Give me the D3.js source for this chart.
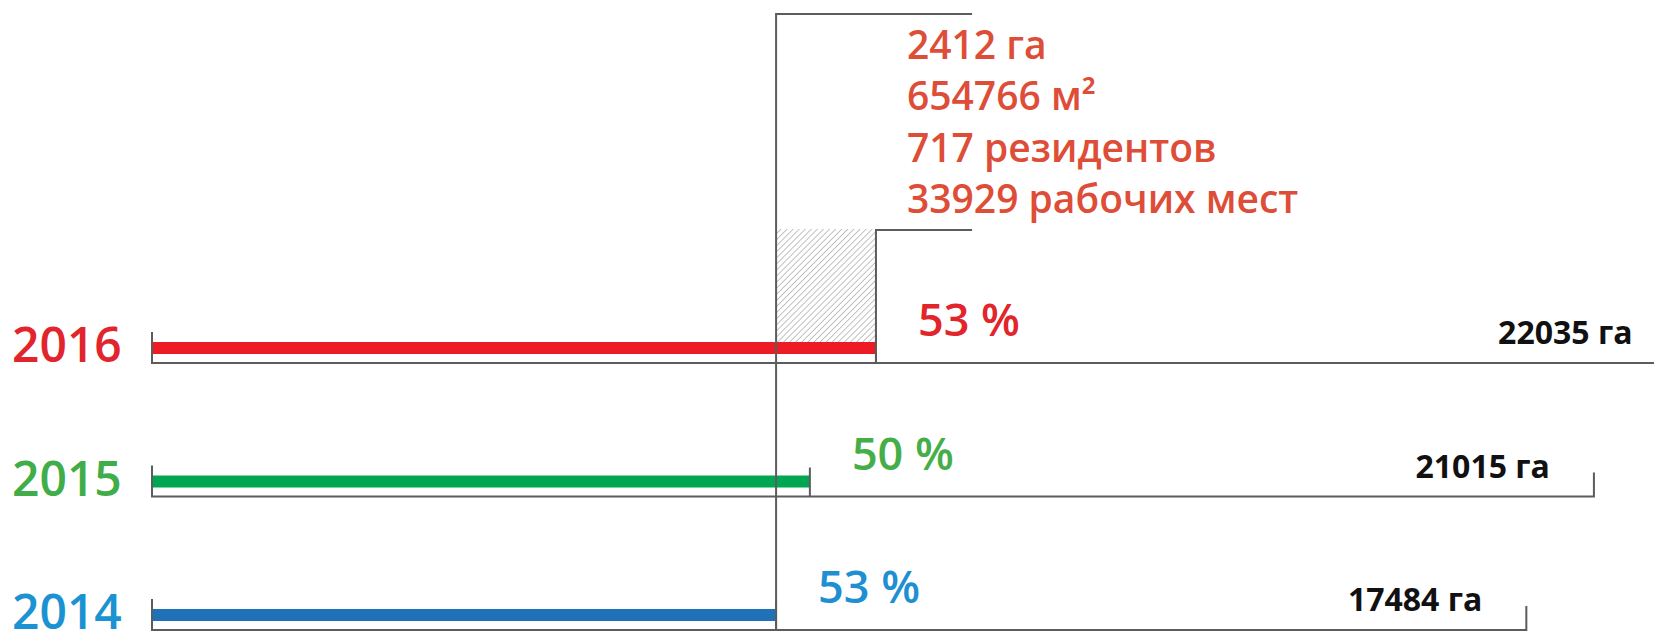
<!DOCTYPE html>
<html>
<head>
<meta charset="utf-8">
<script src="https://cdn.jsdelivr.net/npm/d3@7"></script>
<style>
  body { margin: 0; background: #fff; }
  svg { display: block; font-family: "Open Sans", "Noto Sans", sans-serif; }
</style>
</head>
<body>
<div id="chart"></div>
<script>
// rows, top to bottom
const years = ["2016", "2015", "2014"];
const totalHa = [22035, 21015, 17484];
const sharePct = [53, 50, 53];
// bar and bracket lengths as drawn (the picture is not to scale), 0-100 of plot width
const barEnd = [48.2, 43.8, 41.55];
const bracketEnd = [101.5, 96.0, 91.5];

// 2016 increment over 2014
const newHa = 2412;
const newFloorM2 = 654766;
const newResidents = 717;
const newJobs = 33929;

const yearColor = {"2016": "#e2252c", "2015": "#40ad48", "2014": "#1b92d1"};
const barColor = {"2016": "#ed1c24", "2015": "#00a651", "2014": "#1f72b8"};
const pctColor = {"2016": "#e2242b", "2015": "#45ae48", "2014": "#1e8fd0"};
const lineColor = "#5c5c5c";

var width = 1654, height = 631;

var svg = d3.select("#chart").append("svg")
    .attr("width", width)
    .attr("height", height);

var x = d3.scaleLinear()
    .domain([0, 100])
    .range([152, 1654]);

var y = d3.scalePoint()
    .domain(years)
    .range([363, 630]);

var rows = years.map(function(yr, i) {
  return {year: yr, total: totalHa[i], pct: sharePct[i], bar: barEnd[i], span: bracketEnd[i]};
});

var defs = svg.append("defs");
defs.append("pattern")
    .attr("id", "hatch")
    .attr("patternUnits", "userSpaceOnUse")
    .attr("width", 4.3)
    .attr("height", 4.3)
    .attr("patternTransform", "rotate(45)")
  .append("line")
    .attr("x1", 0).attr("y1", 0)
    .attr("x2", 0).attr("y2", 4.3)
    .attr("stroke", "#8f8f8f")
    .attr("stroke-width", 1.1);

var base = barEnd[years.indexOf("2014")];
var last = barEnd[years.indexOf("2016")];
var boxEnd = 54.6;
var boxTop = 14, stepY = 230;

// hatched increment
svg.append("rect")
    .attr("x", x(base))
    .attr("y", stepY - 1)
    .attr("width", x(last) - x(base))
    .attr("height", y("2016") - 20 - (stepY - 1))
    .attr("fill", "url(#hatch)");

// brackets
svg.selectAll(".bracket")
    .data(rows)
  .enter().append("path")
    .attr("class", "bracket")
    .attr("fill", "none")
    .attr("stroke", lineColor)
    .attr("stroke-width", 2)
    .attr("d", function(d) {
      var yy = y(d.year);
      return "M" + x(0) + "," + (yy - 31) + "V" + yy + "H" + x(d.span) + "V" + (yy - 24);
    });

// bars
svg.selectAll(".bar")
    .data(rows)
  .enter().append("rect")
    .attr("class", "bar")
    .attr("x", x(0) + 1)
    .attr("y", function(d) { return y(d.year) - 21; })
    .attr("width", function(d) { return x(d.bar) - x(0) - 1; })
    .attr("height", 12)
    .attr("fill", function(d) { return barColor[d.year]; });

svg.selectAll(".endtick")
    .data(rows)
  .enter().append("line")
    .attr("class", "endtick")
    .attr("x1", function(d) { return x(d.bar); })
    .attr("x2", function(d) { return x(d.bar); })
    .attr("y1", function(d) { return y(d.year) - 29; })
    .attr("y2", function(d) { return y(d.year); })
    .attr("stroke", lineColor)
    .attr("stroke-width", 2);

// reference line + annotation box
svg.append("path")
    .attr("fill", "none")
    .attr("stroke", lineColor)
    .attr("stroke-width", 2)
    .attr("d", "M" + x(boxEnd) + "," + boxTop + "H" + x(base) + "V" + height);

svg.append("path")
    .attr("fill", "none")
    .attr("stroke", lineColor)
    .attr("stroke-width", 2)
    .attr("d", "M" + x(boxEnd) + "," + stepY + "H" + x(last) + "V" + y("2016"));

var notes = [
  newHa + " га",
  newFloorM2 + " м²",
  newResidents + " резидентов",
  newJobs + " рабочих мест"
];

svg.selectAll(".note")
    .data(notes)
  .enter().append("text")
    .attr("class", "note")
    .attr("x", x(last) + 31)
    .attr("y", function(d, i) { return boxTop + 45 + i * 51.3; })
    .style("font-size", "39px")
    .style("font-weight", 600)
    .style("fill", "#dd4d37")
    .text(function(d) { return d; });

// labels
svg.selectAll(".year")
    .data(rows)
  .enter().append("text")
    .attr("class", "year")
    .attr("x", 12)
    .attr("y", function(d) { return y(d.year) - 1; })
    .style("font-size", "48px")
    .style("font-weight", 600)
    .style("fill", function(d) { return yearColor[d.year]; })
    .text(function(d) { return d.year; });

svg.selectAll(".pct")
    .data(rows)
  .enter().append("text")
    .attr("class", "pct")
    .attr("x", function(d) { return x(d.bar) + 42; })
    .attr("y", function(d) { return y(d.year) - 27; })
    .style("font-size", "45px")
    .style("font-weight", 600)
    .style("fill", function(d) { return pctColor[d.year]; })
    .text(function(d) { return d.pct + " %"; });

svg.selectAll(".total")
    .data(rows)
  .enter().append("text")
    .attr("class", "total")
    .attr("x", function(d) { return x(d.span) - 44; })
    .attr("y", function(d) { return y(d.year) - 19; })
    .style("font-size", "32px")
    .style("font-weight", 700)
    .style("fill", "#111")
    .style("text-anchor", "end")
    .text(function(d) { return d.total + " га"; });
</script>
</body>
</html>
